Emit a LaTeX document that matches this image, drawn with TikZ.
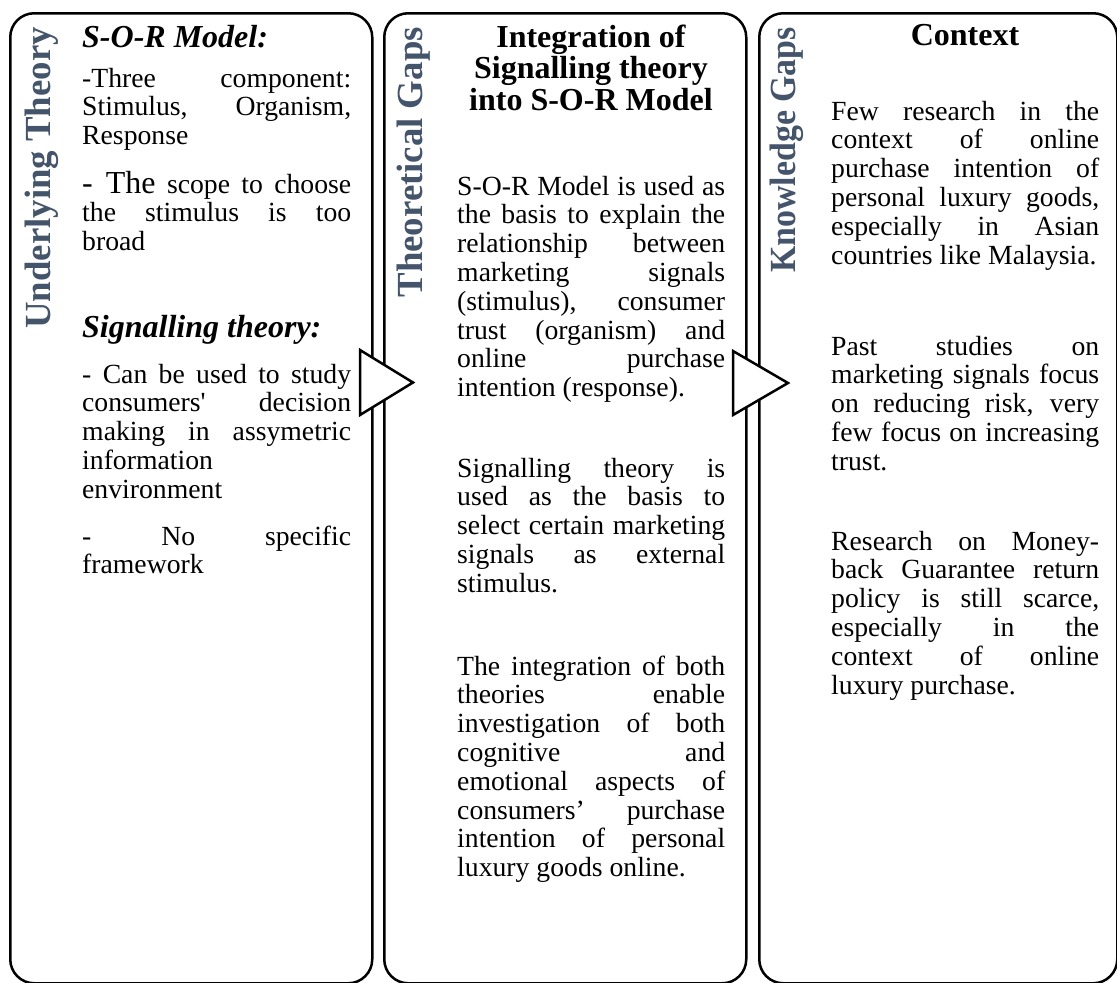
\documentclass[tikz,border=0pt]{standalone}
\usepackage{fontspec}
\setmainfont{Liberation Serif}
\definecolor{titleblue}{RGB}{68,84,106}
% one justified line of a paragraph, spread to the full column width
\newcommand{\jln}[1]{\makebox[\linewidth][s]{#1}\\}
\begin{document}
\begin{tikzpicture}[x=1pt,y=-1pt,
  panel/.style={draw=black, line width=2.5pt, rounded corners=24pt, inner sep=0pt,
                anchor=north west, minimum height=970pt},
  pointer/.style={draw=black, line width=2.5pt, fill=white, line join=miter},
  vtitle/.style={rotate=90, anchor=base east, inner sep=0pt, text=titleblue,
                 font=\fontsize{36.8}{36.8}\selectfont\bfseries},
  hd/.style={inner sep=0pt, font=\fontsize{32}{31.7}\selectfont},
  body/.style={inner sep=0pt, anchor=base west, font=\fontsize{27.7}{28.8}\selectfont}]
\useasboundingbox (0,0) rectangle (1117,983);

% three panels
\node[panel, minimum width=362pt] (b1) at (9,12) {};
\node[panel, minimum width=362pt] (b2) at (383,12) {};
\node[panel, minimum width=358pt] (b3) at (758,12) {};

% pointers from one panel to the next
\draw[pointer] (360,350) -- (413,382.5) -- (360,415) -- cycle;
\draw[pointer] (733,351) -- (788,383) -- (733,415) -- cycle;

% side titles
\node[vtitle] (t1) at (50,27) {Underlying Theory};
\node[vtitle] (t2) at (422,27) {Theoretical Gaps};
\node[vtitle, xscale=0.92] (t3) at (795,27) {Knowledge Gaps};

% panel 1: underlying theory
\node[hd, anchor=base west] (h1a) at (82,47) {\bfseries\itshape S-O-R Model:};
\node[body] (p1a) at (82,87) {\parbox[t]{269pt}{%
  \jln{-Three component:}
  \jln{Stimulus, Organism,}
  Response}};
\node[body] (p1b) at (82,193) {\parbox[t]{269pt}{%
  \jln{{\fontsize{32}{28.8}\selectfont - The} scope to choose}
  \jln{the stimulus is too}
  broad}};
\node[hd, anchor=base west] (h1b) at (82,337) {\bfseries\itshape Signalling theory:};
\node[body] (p1c) at (82,383) {\parbox[t]{269pt}{%
  \jln{- Can be used to study}
  \jln{consumers\textquotesingle{} decision}
  \jln{making in assymetric}
  information\\
  environment}};
\node[body] (p1d) at (82,545) {\parbox[t]{269pt}{%
  \jln{- No specific}
  framework}};

% panel 2: theoretical gaps
\node[hd, anchor=base] (h2) at (591,47) {\parbox[t]{268pt}{\centering\bfseries
  Integration of\\Signalling theory\\into S-O-R Model}};
\node[body] (p2a) at (457,195) {\parbox[t]{268pt}{%
  \jln{S-O-R Model is used as}
  \jln{the basis to explain the}
  \jln{relationship between}
  \jln{marketing signals}
  \jln{(stimulus), consumer}
  \jln{trust (organism) and}
  \jln{online purchase}
  intention (response).}};
\node[body] (p2b) at (457,477) {\parbox[t]{268pt}{%
  \jln{Signalling theory is}
  \jln{used as the basis to}
  \jln{select certain marketing}
  \jln{signals as external}
  stimulus.}};
\node[body] (p2c) at (457,675) {\parbox[t]{268pt}{%
  \jln{The integration of both}
  \jln{theories enable}
  \jln{investigation of both}
  \jln{cognitive and}
  \jln{emotional aspects of}
  \jln{consumers’ purchase}
  \jln{intention of personal}
  luxury goods online.}};

% panel 3: knowledge gaps
\node[hd, anchor=base] (h3) at (965,45) {\bfseries Context};
\node[body] (p3a) at (831,120) {\parbox[t]{268pt}{%
  \jln{Few research in the}
  \jln{context of online}
  \jln{purchase intention of}
  \jln{personal luxury goods,}
  \jln{especially in Asian}
  countries like Malaysia.}};
\node[body] (p3b) at (831,355) {\parbox[t]{268pt}{%
  \jln{Past studies on}
  \jln{marketing signals focus}
  \jln{on reducing risk, very}
  \jln{few focus on increasing}
  trust.}};
\node[body] (p3c) at (831,550) {\parbox[t]{268pt}{%
  \jln{Research on Money-}
  \jln{back Guarantee return}
  \jln{policy is still scarce,}
  \jln{especially in the}
  \jln{context of online}
  luxury purchase.}};
\end{tikzpicture}
\end{document}
